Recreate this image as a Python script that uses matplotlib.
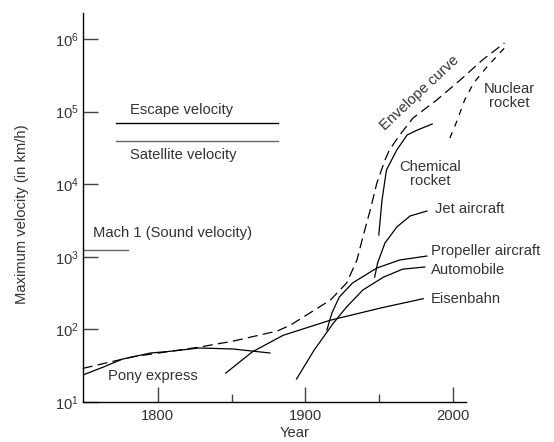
import matplotlib
matplotlib.use("Agg")
import matplotlib.pyplot as plt

plt.rcParams["font.family"] = ["Liberation Sans", "DejaVu Sans"]
plt.rcParams["mathtext.fontset"] = "custom"
plt.rcParams["mathtext.rm"] = "Liberation Sans"
plt.rcParams["mathtext.it"] = "Liberation Sans:italic"
plt.rcParams["lines.scale_dashes"] = False

# Values (year, km/h)
envelope_year = [1749, 1783, 1828, 1851, 1881, 1890, 1903, 1917, 1928, 1935, 1939,
                 1944, 1948.5, 1954, 1957, 1964, 1973, 1989, 2005, 2020, 2035]
envelope_kmh = [29, 42, 57, 69, 95, 115, 168, 254, 436, 904, 1875,
                4410, 10400, 21500, 29600, 47600, 81700, 144000, 272000, 513000, 881000]

pony_year = [1749, 1763, 1776, 1795, 1810, 1828, 1851, 1864, 1876]
pony_kmh = [23.5, 30.3, 39, 47.3, 50.3, 55.5, 53.7, 50.3, 47.3]

rail_year = [1846, 1864, 1885, 1917, 1951, 1980]
rail_kmh = [25, 49, 83, 134, 197, 265]

auto_year = [1894, 1906, 1919, 1928, 1939, 1953, 1966, 1981]
auto_kmh = [20.7, 52, 122, 204, 349, 525, 676, 724]

prop_year = [1914.6, 1918, 1923, 1932, 1948.5, 1964, 1982.4]
prop_kmh = [98, 168, 279, 436, 701, 904, 1025]

jet_year = [1947, 1949, 1954, 1962, 1971, 1982.4]
jet_kmh = [525, 822, 1550, 2570, 3650, 4270]

chem_year = [1949.8, 1952, 1955, 1962, 1969, 1976, 1986]
chem_kmh = [2000, 6050, 15700, 29600, 47600, 55800, 67500]

nuclear_year = [1998, 2003, 2008, 2014, 2023, 2035]
nuclear_kmh = [43300, 76000, 144000, 246000, 410000, 752000]

escape_kmh = 69000
satellite_kmh = 39000
mach1_kmh = 1230
ref_span = (1771.5, 1881.5)
mach_span = (1749, 1780)

text_col = "#333333"
fs = 10.6

fig = plt.figure(figsize=(5.54, 4.42), dpi=100)
ax = fig.add_axes([0.1498, 0.0905, 0.774, 0.880])
ax.set_yscale("log")
ax.set_xlim(1749.2, 2040)
ax.set_ylim(10, 10 ** 6.358)

lw = 0.9
ax.plot(envelope_year, envelope_kmh, color="black", lw=lw, dashes=(7.2, 3.8), clip_on=False)
ax.plot(nuclear_year, nuclear_kmh, color="black", lw=lw, dashes=(4.5, 4.5), clip_on=False)
for xs, ys in [(pony_year, pony_kmh), (rail_year, rail_kmh), (auto_year, auto_kmh),
               (prop_year, prop_kmh), (jet_year, jet_kmh), (chem_year, chem_kmh)]:
    ax.plot(xs, ys, color="black", lw=lw)

ax.plot(ref_span, [escape_kmh] * 2, color="black", lw=1.0)
ax.plot(ref_span, [satellite_kmh] * 2, color="#666666", lw=1.0)
ax.plot(mach_span, [mach1_kmh] * 2, color="#666666", lw=1.0)

def label(x, y, s, **kw):
    ax.text(x, y, s, fontsize=fs, color=text_col, va="center", **kw)

label(1781, 1.05e5, "Escape velocity")
label(1781, 2.5e4, "Satellite velocity")
label(1756, 2130, "Mach 1 (Sound velocity)")
label(1766, 22.8, "Pony express")
label(1977.6, 1.8e5, "Envelope curve", rotation=43, ha="center", rotation_mode="anchor")
label(2038.5, 1.66e5, "Nuclear\nrocket", ha="center", linespacing=1.0)
label(1984.4, 1.4e4, "Chemical\nrocket", ha="center", linespacing=1.0)
label(1987.8, 4570, "Jet aircraft")
label(1984.9, 1200, "Propeller aircraft")
label(1984.9, 660, "Automobile")
label(1984.9, 260, "Eisenbahn")

for side in ("top", "right"):
    ax.spines[side].set_visible(False)
ax.spines["bottom"].set_bounds(1749.2, 2008.8)
ax.spines["left"].set_linewidth(1.0)
ax.spines["bottom"].set_linewidth(1.0)

ax.set_xticks([1800, 1900, 2000])
ax.set_xticks([1850, 1950], minor=True)
ax.set_xticklabels(["1800", "1900", "2000"])
ax.set_yticks([10 ** k for k in range(1, 7)])
ax.set_yticklabels([r"10$^{%d}$" % k for k in range(1, 7)])
ax.yaxis.set_minor_locator(matplotlib.ticker.NullLocator())
ax.tick_params(which="major", direction="in", length=11, width=1.0, color="#444444",
               labelsize=fs, labelcolor=text_col, pad=3)
ax.tick_params(which="minor", direction="in", length=6, width=1.0, color="#444444")
ax.tick_params(axis="x", pad=5)

fig.text(22 / 554, 1 - 214 / 442, "Maximum velocity (in km/h)", rotation=90,
         ha="center", va="center", fontsize=fs, color=text_col)
fig.text(295 / 554, 1 - 433 / 442, "Year", ha="center", va="center", fontsize=fs, color=text_col)

fig.savefig("out.png", dpi=100)
